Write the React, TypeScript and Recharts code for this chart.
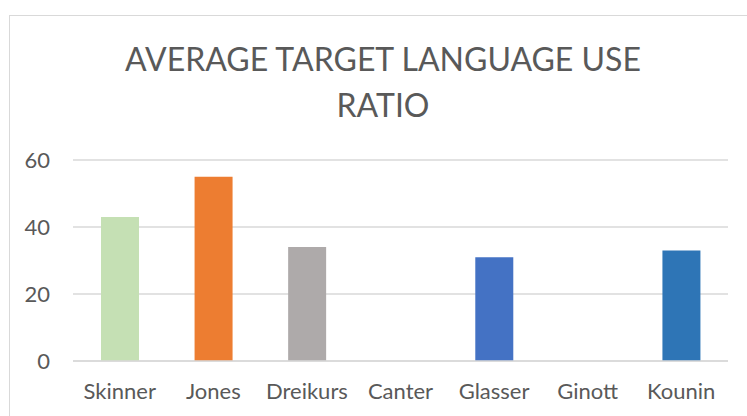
import React from "react";
import { BarChart, Bar, XAxis, YAxis, CartesianGrid, Cell } from "recharts";

const categories = ["Skinner", "Jones", "Dreikurs", "Canter", "Glasser", "Ginott", "Kounin"];
const values = [43, 55, 34, 0, 31, 0, 33];
const colors = ["#C5E0B4", "#ED7D31", "#AEAAAA", "#FFC000", "#4472C4", "#5B9BD5", "#2E75B6"];
const yTicks = [0, 20, 40, 60];
const titleLines = ["AVERAGE TARGET LANGUAGE USE", "RATIO"];

const data = categories.map((name, i) => ({ name, value: values[i] }));

const FONT = "Lato, 'Open Sans', sans-serif";

export default function App() {
  return (
    <div style={{ position: "absolute", left: 0, top: 0, width: 747, height: 416, overflow: "hidden", background: "#fff" }}>
      <div
        style={{
          position: "absolute",
          left: 9,
          top: 15,
          width: 800,
          height: 500,
          border: "1px solid #D9D9D9",
          boxSizing: "border-box",
        }}
      />
      <div
        style={{
          position: "absolute",
          left: 0,
          top: 36,
          width: 766,
          textAlign: "center",
          fontFamily: FONT,
          fontSize: 32,
          lineHeight: "46px",
          color: "#595959",
        }}
      >
        {titleLines.map((l) => (
          <div key={l}>{l}</div>
        ))}
      </div>
      <div style={{ position: "absolute", left: 0, top: 0 }}>
        <BarChart
          width={747}
          height={416}
          data={data}
          margin={{ top: 160, right: 19, bottom: 15, left: 0 }}
        >
          <CartesianGrid vertical={false} stroke="#D9D9D9" strokeWidth={1.5} />
          <XAxis
            dataKey="name"
            height={40}
            axisLine={{ stroke: "#D9D9D9", strokeWidth: 1.5 }}
            tickLine={false}
            tickMargin={16}
            interval={0}
            tick={{ fill: "#595959", fontSize: 22, fontFamily: FONT }}
          />
          <YAxis
            width={73}
            domain={[0, 60]}
            ticks={yTicks}
            axisLine={false}
            tickLine={false}
            tickMargin={17}
            tick={{ fill: "#595959", fontSize: 22, fontFamily: FONT }}
          />
          <Bar dataKey="value" barSize={38} isAnimationActive={false}>
            {data.map((d, i) => (
              <Cell key={d.name} fill={colors[i]} />
            ))}
          </Bar>
        </BarChart>
      </div>
    </div>
  );
}
